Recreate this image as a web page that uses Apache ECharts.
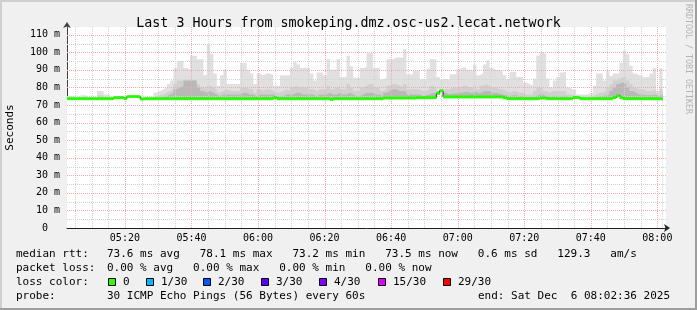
<!DOCTYPE html>
<html><head><meta charset="utf-8">
<script src="https://cdn.jsdelivr.net/npm/echarts@6/dist/echarts.min.js"></script>
<style>html,body{margin:0;padding:0;background:#f0f0f0}#c{width:697px;height:310px}</style>
</head><body><div id="c"></div>
<script>
// time in minutes after 05:00
const START_MIN = 2.6;   // 05:02:36
const END_MIN = 182.6;   // 08:02:36
const xTicks = [20, 40, 60, 80, 100, 120, 140, 160, 180];
const xTickLabels = ['05:20', '05:40', '06:00', '06:20', '06:40', '07:00', '07:20', '07:40', '08:00'];
const yTicks = [0, 10, 20, 30, 40, 50, 60, 70, 80, 90, 100, 110];
const yTickLabels = ['0  ', '10 m', '20 m', '30 m', '40 m', '50 m', '60 m', '70 m', '80 m', '90 m', '100 m', '110 m'];

// median rtt per minute (ms)
const median = [
73.6,73.6,73.6,73.6,73.6,73.6,73.6,73.6,73.6,73.6,
73.6,73.6,73.6,73.6,74.2,74.2,74.2,73.6,74.8,74.8,
74.8,74.8,73.4,73.6,73.6,73.6,73.6,73.6,73.6,73.6,
73.6,73.6,73.6,73.6,73.6,73.6,73.6,73.6,73.6,73.6,
73.6,73.6,73.6,73.6,73.6,73.6,73.6,73.6,73.6,73.6,
73.6,73.6,73.6,73.6,73.6,73.6,73.6,73.6,73.6,73.6,
73.6,73.6,74.2,73.6,73.6,73.6,73.6,73.6,73.6,73.6,
73.6,73.6,73.6,73.6,73.6,73.6,73.6,73.6,73.6,73.2,
73.6,73.6,73.6,73.6,73.6,73.6,73.6,73.6,73.6,73.6,
73.6,73.6,73.6,73.6,73.6,74.0,74.0,74.0,74.0,74.0,
74.0,74.0,74.0,74.0,74.0,74.2,74.2,74.2,74.2,74.2,
74.2,76.5,78.1,74.6,74.6,74.6,74.6,74.6,74.6,74.6,
74.6,74.6,74.6,74.6,74.6,74.6,74.6,74.6,74.6,74.6,
74.6,74.2,73.6,73.6,73.6,73.6,73.6,73.6,73.6,73.6,
73.6,73.6,74.0,74.0,73.6,73.6,73.6,73.6,73.6,73.6,
73.6,73.6,74.3,74.3,73.6,73.6,73.6,73.6,73.6,73.6,
73.6,73.6,73.6,73.6,74.3,75.3,74.2,73.6,73.6,73.6,
73.6,73.6,73.6,73.6,73.6,73.6,73.6,73.6,73.5
];
// smoke: highest ping per minute (ms)
const smokeMax = [
75,75,74,74,75.5,75.5,74,74,74,78,
78,76,76,74,74.5,74.5,75,75,74.5,74.5,
74.5,74.8,74,74,74,75,77,78,79,80,
82,84,91,95,95,91,90,98,98,96,
96,87,104.5,99,88,81,87,90,82,82,
82,82,94,94,90,88,82,88,87,88,
88,87,81,81,87,87,87,91,94.5,93,
91,91,91,88,84,88.5,88.5,87,96,90,
90,96,86,86,98,92,85.5,85.5,91,91.5,
99.5,99.5,91,91,84.5,85.5,96,96,97,97,
97,101.8,87.5,87.5,89.3,89.3,84.7,84.7,90.7,96,
96,86,84.7,84.7,84.7,87.5,87.5,90.4,91.4,91.4,
90,89.5,93,87,88,93,95.5,91,90,90,
89,87,84.5,89,89,86,86,83,82,81,
85,98,100,99,85,80,84,86,88.5,89,
80,79,78.5,76,76,76,76.5,77,81,88,
88,84,89.4,86.5,88,88,94,101,99,92.3,
88,87,87,85.8,85.8,88,91,78,91
];
// smoke: middle band top (ms)
const smokeMid = [
74,74,74,74,74,74,74,74,74,75.5,
75.5,74,74,74,74.5,74.5,74,74,74.8,74.8,
74.8,74.8,74,74,74,74,75,75.5,76,77,
78,79,82,84,84,84,84,84,84,82,
80,79,81,80,79,77,78,79,78,78,
78,78,80,80,79,79,77,79,78,79,
79,78,77,77,78,79,78,80,81,80,
80,80,79,79,78,79,79,79,81,79,
80,81,79,79,82,80,78,78,80,81,
82,82,80,80,78,79,81,82,82,81,
80,82,79,79,79,79,78,78,79,81,
80,78,79,79,79,80,80,80,81,81,
80,80,81,79,81,82,81,80,80,79,
79,78,77,78,78,77,77,76,76,76,
78,80,80,78,77,78,78,78,78,78,
76,76,75,75,75,74.5,74.5,75,76,77,
77,78,80,82,84,85,86,86,84,82,
80,79,79,78,78,78,79,76,79
];
// smoke: dark inner band top (ms)
const smokeDark = [
73.6,73.6,73.6,73.6,73.6,73.6,73.6,73.6,73.6,73.6,
73.6,73.6,73.6,73.6,74.2,74.2,74.2,73.6,74.8,74.8,
74.8,74.8,73.6,73.6,73.6,73.6,73.6,73.6,73.6,75,
76,77,79,80,81,84,84,84,84,80,
78,77,78,77,76,75,76,76,76,76,
76,76,77,77,76,76,75,76,76,76,
76,76,75,75,75,76,76,76,77,77,
76,76,76,76,75,76,76,76,77,76,
76,77,76,76,77,76,75,75,76,77,
77,77,76,76,75,77,78,79,79,78,
78,78,76,76,76,76,75,75.5,76,77,
76.5,78,79,77,76,76.5,76.5,77,77,77.5,
77,77,77.5,76.5,77.5,78,78,77,77,76.5,
76,75.5,75,75.5,75.5,75,75,74.5,74.5,74.5,
75,76,76,75,75,75,75,75,75,75,
74,74,74.3,74.3,74,74,74,74,74.5,75,
75,75.5,76,78,80,82,83,82,80,78,
77,76,76,75.5,75.5,75.5,76,75,76
];

const lossLabels = ['0', '1/30', '2/30', '3/30', '4/30', '15/30', '29/30'];
const lossColors = ['#26ff00', '#00b8ff', '#0059ff', '#5e00ff', '#7e00ff', '#dd00ff', '#ff0000'];

function steps(arr) {
  const d = arr.map((v, i) => [START_MIN + i, v]);
  d.push([START_MIN + arr.length, arr[arr.length - 1]]);
  return d;
}
// grid line positions (minutes / ms)
const xMinor = [], yMinor = [];
for (let v = 5; v < END_MIN; v += 5) if (xTicks.indexOf(v) < 0) xMinor.push(v);
for (let v = 5; v < 114; v += 10) yMinor.push(v);
const MINOR_COLOR = '#d2d2d2', MAJOR_COLOR = '#f7aaaa';

const FONT = 'DejaVu Sans Mono';
function areaSeries(arr, color, z) {
  return { type: 'line', step: 'end', data: steps(arr), symbol: 'none', silent: true, z: z,
    lineStyle: { width: 0 }, areaStyle: { color: color, opacity: 1 } };
}
function gridSeries(xs, ys, color, z) {
  const data = xs.map(v => [v, 0, 1]).concat(ys.map(v => [START_MIN, v, 0]));
  return { type: 'custom', silent: true, z: z,
    data: data,
    renderItem: function (params, api) {
      const cs = params.coordSys;
      const vertical = api.value(2) === 1;
      let shape;
      if (vertical) {
        const x = Math.round(api.coord([api.value(0), 0])[0]) + 0.5;
        shape = { x1: x, y1: cs.y, x2: x, y2: cs.y + cs.height };
      } else {
        const y = Math.round(api.coord([START_MIN, api.value(1)])[1]) + 0.5;
        shape = { x1: cs.x, y1: y, x2: cs.x + cs.width, y2: y };
      }
      return { type: 'line', shape: shape,
        style: { stroke: color, fill: null, lineWidth: 1, lineDash: [1, 1] } };
    } };
}

const legendLines = [
  { y: 254, label: 'median rtt:', text: '73.6 ms avg   78.1 ms max   73.2 ms min   73.5 ms now   0.6 ms sd   129.3   am/s' },
  { y: 268, label: 'packet loss:', text: '0.00 % avg   0.00 % max   0.00 % min   0.00 % now' },
  { y: 282, label: 'loss color:', text: '' },
  { y: 296, label: 'probe:', text: '30 ICMP Echo Pings (56 Bytes) every 60s' }
];
const squareX = [108, 146, 203, 261, 319, 378, 443];
const graphics = [
  { type: 'rect', shape: { x: 0, y: 0, width: 697, height: 2 }, style: { fill: '#cfcfcf' }, z: -1 },
  { type: 'rect', shape: { x: 0, y: 0, width: 2, height: 310 }, style: { fill: '#cfcfcf' }, z: -1 },
  { type: 'rect', shape: { x: 0, y: 308, width: 697, height: 2 }, style: { fill: '#9e9e9e' }, z: -1 },
  { type: 'rect', shape: { x: 695, y: 0, width: 2, height: 310 }, style: { fill: '#9e9e9e' }, z: -1 },
  { type: 'text', x: 688, y: 4, rotation: -Math.PI / 2,
    style: { text: 'RRDTOOL / TOBI OETIKER', font: '8.3px "' + FONT + '"', fill: '#b4b4b4', verticalAlign: 'middle', align: 'left' } },
  { type: 'text', x: 478, y: 296, style: { text: 'end: Sat Dec  6 08:02:36 2025', font: '11px "' + FONT + '"', fill: '#000', verticalAlign: 'middle' } }
];
legendLines.forEach(l => {
  graphics.push({ type: 'text', x: 16, y: l.y, style: { text: l.label, font: '11px "' + FONT + '"', fill: '#000', verticalAlign: 'middle' } });
  if (l.text) graphics.push({ type: 'text', x: 107, y: l.y, style: { text: l.text, font: '11px "' + FONT + '"', fill: '#000', verticalAlign: 'middle' } });
});
lossLabels.forEach((lab, i) => {
  graphics.push({ type: 'rect', shape: { x: squareX[i] + 0.5, y: 278.5, width: 7, height: 7 }, style: { fill: lossColors[i], stroke: '#000', lineWidth: 1 } });
  graphics.push({ type: 'text', x: squareX[i] + 15, y: 282, style: { text: lab, font: '11px "' + FONT + '"', fill: '#000', verticalAlign: 'middle' } });
});

const chart = echarts.init(document.getElementById('c'), null, { renderer: 'canvas' });
chart.setOption({
  animation: false,
  backgroundColor: '#f0f0f0',
  title: { text: 'Last 3 Hours from smokeping.dmz.osc-us2.lecat.network', left: 'center', top: 12,
    textStyle: { fontFamily: FONT, fontSize: 13.3, fontWeight: 'normal', color: '#000' } },
  grid: { left: 67, right: 31, top: 27, bottom: 82, show: true, backgroundColor: '#ffffff', borderWidth: 0,
    containLabel: false, outerBoundsMode: 'none' },
  xAxis: {
    type: 'value', min: START_MIN, max: END_MIN,
    splitLine: { show: false }, axisTick: { show: false },
    axisLine: { show: true, onZero: false, lineStyle: { color: '#202020', width: 1 }, symbol: ['none', 'arrow'], symbolSize: [6, 6], symbolOffset: [0, 4] },
    axisLabel: { customValues: xTicks, formatter: v => xTickLabels[xTicks.indexOf(v)], margin: 5,
      fontFamily: FONT, fontSize: 10, color: '#000' }
  },
  yAxis: {
    type: 'value', min: 0, max: 114.4,
    name: 'Seconds', nameLocation: 'middle', nameGap: 51,
    nameTextStyle: { fontFamily: FONT, fontSize: 11, color: '#000' },
    splitLine: { show: false }, axisTick: { show: false },
    axisLine: { show: true, lineStyle: { color: '#404040', width: 1 }, symbol: ['none', 'arrow'], symbolSize: [6, 6], symbolOffset: [0, 5] },
    axisLabel: { customValues: yTicks, formatter: v => yTickLabels[yTicks.indexOf(v)], margin: 7,
      fontFamily: FONT, fontSize: 10, color: '#000' }
  },
  graphic: graphics,
  series: [
    areaSeries(smokeMax, '#e0e0e0', 1),
    areaSeries(smokeMid, '#d0d0d0', 2),
    areaSeries(smokeDark, '#b8b8b8', 3),
    areaSeries(median, '#ffffff', 4),
    gridSeries(xMinor, yMinor, MINOR_COLOR, 5),
    gridSeries(xTicks, yTicks.slice(1), MAJOR_COLOR, 6),
    { type: 'line', step: 'end', data: steps(median), symbol: 'none', silent: true, z: 7,
      lineStyle: { color: '#202020', width: 1 } },
    { type: 'custom', silent: true, z: 8,
      data: median.map((v, i) => [START_MIN + i, v]),
      renderItem: function (params, api) {
        const x0 = api.value(0), v = api.value(1);
        const p0 = api.coord([x0, v]), p1 = api.coord([x0 + 1, v]);
        return { type: 'rect', shape: { x: p0[0], y: p0[1] - 1.5, width: p1[0] - p0[0], height: 3 },
          style: { fill: lossColors[0] } };
      } }
  ]
});
</script></body></html>
